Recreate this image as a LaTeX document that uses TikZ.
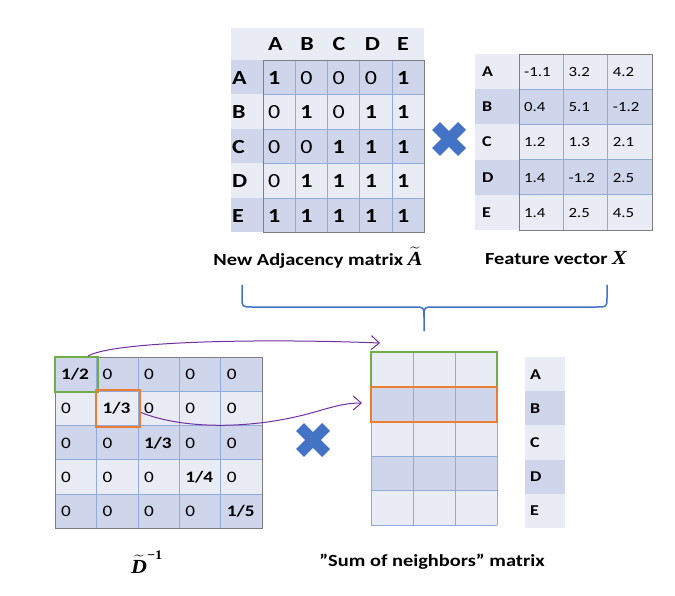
\documentclass[tikz,border=0pt]{standalone}
\usepackage{fontspec}
\usepackage{amsmath}
\setmainfont{Carlito}[FakeStretch=1.2]
\newfontfamily\mathlike{Liberation Serif}[FakeStretch=1.1]
\usetikzlibrary{arrows.meta}
\definecolor{banddark}{HTML}{CFD5EA}
\definecolor{bandlight}{HTML}{E9EBF5}
\definecolor{gridblue}{HTML}{8FAADC}
\definecolor{framegrey}{HTML}{7F7F7F}
\definecolor{crossblue}{HTML}{4472C4}
\definecolor{pickgreen}{HTML}{70AD47}
\definecolor{pickorange}{HTML}{ED7D31}
\definecolor{linkpurple}{HTML}{7030A0}
\newcommand\symb[1]{\hbox{\fontsize{20}{20}\selectfont\mathlike\bfseries\itshape #1}}
\tikzset{
  entry/.style={anchor=west,inner sep=0pt,text height=10pt,text depth=0pt,font=\fontsize{14}{16}\selectfont},
  midentry/.style={anchor=west,inner sep=0pt,text height=11pt,text depth=0pt,font=\fontsize{16}{18}\selectfont},
  rowname/.style={anchor=west,inner sep=0pt,text height=10pt,text depth=0pt,font=\fontsize{15}{18}\selectfont\bfseries},
  bigentry/.style={anchor=west,inner sep=0pt,text height=14pt,text depth=0pt,font=\fontsize{20}{24}\selectfont},
  caption/.style={inner sep=0pt,font=\fontsize{17}{20}\selectfont\bfseries},
  gridline/.style={draw=gridblue,line width=0.6pt},
  frameline/.style={draw=framegrey,line width=0.8pt},
  pick/.style={draw=#1,line width=2pt,inner sep=0pt},
  link/.style={linkpurple,line width=1pt,-{Straight Barb[length=8pt,width=14pt]}},
  cross/.style={crossblue,line width=11pt},
}
\begin{document}
\begin{tikzpicture}[x=1pt,y=-1pt]
\useasboundingbox (0,0) rectangle (675,596);
\fill[bandlight] (231,28) rectangle (424,60);
\foreach \r/\band in {1/banddark,2/bandlight,3/banddark,4/bandlight,5/banddark}
  \fill[\band] (231,{60+34.5*(\r-1)}) rectangle (424,{60+34.5*\r});
\foreach \c in {1,...,4}
  \draw[gridline] ({263+32.2*\c},60) -- ({263+32.2*\c},232.5);
\foreach \r in {1,...,4}
  \draw[gridline] (263,{60+34.5*\r}) -- (424,{60+34.5*\r});
\draw[frameline] (263,60) rectangle (424,232.5);
\foreach \l [count=\i] in {A,B,C,D,E}{
  \node[bigentry] (adj-col\i) at ({263+32.2*(\i-1)+5},44) {\textbf{\l}};
  \node[bigentry] (adj-row\i) at (232,{60+34.5*(\i-0.5)}) {\textbf{\l}};
}
\foreach \r/\vals in {1/{1,0,0,0,1},2/{0,1,0,1,1},3/{0,0,1,1,1},4/{0,1,1,1,1},5/{1,1,1,1,1}}
  \foreach \v [count=\c] in \vals
    \node[bigentry] (adj-\r-\c) at ({263+32.2*(\c-1)+5},{60+34.5*(\r-0.5)}) {\ifnum\v=1 \textbf{1}\else 0\fi};

\foreach \r/\band in {1/bandlight,2/banddark,3/bandlight,4/banddark,5/bandlight}
  \fill[\band] (475,{54+35.2*(\r-1)}) rectangle (652,{54+35.2*\r});
\foreach \c in {1,2}
  \draw[gridline] ({519+44.33*\c},54) -- ({519+44.33*\c},230);
\foreach \r in {1,...,4}
  \draw[gridline] (519,{54+35.2*\r}) -- (652,{54+35.2*\r});
\draw[frameline] (519,54) rectangle (652,230);
\foreach \l/\vals [count=\r] in {A/{-1.1,3.2,4.2},B/{0.4,5.1,-1.2},C/{1.2,1.3,2.1},D/{1.4,-1.2,2.5},E/{1.4,2.5,4.5}}{
  \node[rowname] (feat-row\r) at (482,{54+35.2*(\r-0.5)}) {\l};
  \foreach \v [count=\c] in \vals
    \node[entry] (feat-\r-\c) at ({519+44.33*(\c-1)+5},{54+35.2*(\r-0.5)}) {\v};
}
\draw[cross] (436,126) -- (462,152) (436,152) -- (462,126);

\node[caption] (cap-adj) at (318,258) {New Adjacency matrix $\widetilde{\symb{A}}$};
\node[caption] (cap-feat) at (556,258) {Feature vector \symb{X}};
\draw[crossblue,line width=1.5pt] (242,285) -- (242,297) .. controls (242,307) .. (252,307) -- (414,307) .. controls (424,307) .. (424,317) -- (424,331);
\draw[crossblue,line width=1.5pt] (607,285) -- (607,297) .. controls (607,307) .. (597,307) -- (434,307) .. controls (424,307) .. (424,317);

\foreach \r/\band in {1/banddark,2/bandlight,3/banddark,4/bandlight,5/banddark}
  \fill[\band] (55,{357+34.2*(\r-1)}) rectangle (262,{357+34.2*\r});
\foreach \c in {1,...,4}
  \draw[gridline] ({55+41.4*\c},357) -- ({55+41.4*\c},528);
\foreach \r in {1,...,4}
  \draw[gridline] (55,{357+34.2*\r}) -- (262,{357+34.2*\r});
\draw[frameline] (55,357) rectangle (262,528);
\foreach \r/\d in {1/2,2/3,3/3,4/4,5/5}
  \foreach \c in {1,...,5}
    \node[midentry] (deg-\r-\c) at ({55+41.4*(\c-1)+6},{357+34.2*(\r-0.5)}) {\ifnum\r=\c \textbf{1/\d}\else 0\fi};
\node[pick=pickgreen,minimum width=43pt,minimum height=35pt] (pickA) at (76.5,374.5) {};
\node[pick=pickorange,minimum width=44pt,minimum height=37pt] (pickB) at (118,408.5) {};

\foreach \r/\band in {1/bandlight,2/banddark,3/bandlight,4/banddark,5/bandlight}
  \fill[\band] (371,{352+34.6*(\r-1)}) rectangle (497,{352+34.6*\r});
\foreach \c in {0,...,3}
  \draw[gridline] ({371+42*\c},352) -- ({371+42*\c},525);
\foreach \r in {0,...,5}
  \draw[gridline] (371,{352+34.6*\r}) -- (497,{352+34.6*\r});
\node[pick=pickgreen,minimum width=126pt,minimum height=35pt] (sumA) at (434,369.5) {};
\node[pick=pickorange,minimum width=126pt,minimum height=35pt] (sumB) at (434,404.5) {};
\foreach \l/\band [count=\r] in {A/bandlight,B/banddark,C/bandlight,D/banddark,E/bandlight}{
  \fill[\band] (525,{357+34.2*(\r-1)}) rectangle (565,{357+34.2*\r});
  \node[rowname] (sum-row\r) at (530,{357+34.2*(\r-0.5)}) {\l};
}
\draw[cross] (300,427) -- (326,453) (300,453) -- (326,427);

\coordinate (tipA) at (380,343);
\coordinate (tipB) at (362,403);
\draw[link] ([xshift=-11pt]pickA.north east) .. controls (112,342) and (250,338) .. (tipA);
\draw[link] ([yshift=-4pt]pickB.east) .. controls (180,428) and (235,428) .. (280,420) .. controls (320,413) and (335,403) .. (tipB);

\node[caption] (cap-deg) at (147,562) {$\widetilde{\symb{D}}^{\hbox{\fontsize{13}{13}\selectfont\mathlike\bfseries −1}}$};
\node[caption] (cap-sum) at (432,562) {”Sum of neighbors” matrix};
\end{tikzpicture}
\end{document}
